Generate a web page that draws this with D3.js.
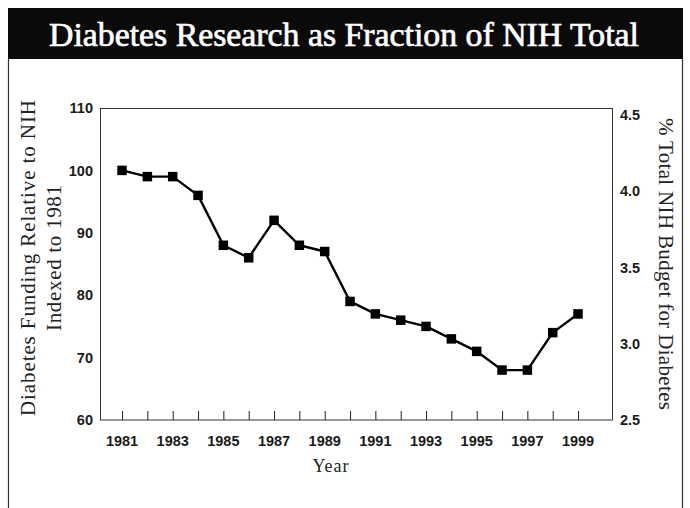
<!DOCTYPE html>
<html>
<head>
<meta charset="utf-8">
<script src="https://cdn.jsdelivr.net/npm/d3@7"></script>
<style>
  html, body { margin: 0; padding: 0; background: #fff; }
  svg { display: block; }
</style>
</head>
<body>
<svg id="chart" width="690" height="508"></svg>
<script>
// ---- data ----
const years = [1981,1982,1983,1984,1985,1986,1987,1988,1989,1990,1991,1992,1993,1994,1995,1996,1997,1998,1999];
const fundingIndex = [100,99,99,96,88,86,92,88,87,79,77,76,75,73,71,68,68,74,77];
const xTickLabels = [1981,1983,1985,1987,1989,1991,1993,1995,1997,1999];
const leftTicks = [60,70,80,90,100,110];
const rightTicks = [2.5,3.0,3.5,4.0,4.5];
const title = "Diabetes Research as Fraction of NIH Total";
const leftTitle = ["Diabetes Funding Relative to NIH", "Indexed to 1981"];
const rightTitle = "% Total NIH Budget for Diabetes";
const xTitle = "Year";

const svg = d3.select("#chart");
const serif = "Liberation Serif, DejaVu Serif, serif";
const sans = "Liberation Sans, Arial, sans-serif";

// title bar
svg.append("rect").attr("x", 8).attr("y", 8).attr("width", 675).attr("height", 51).attr("fill", "#0a0a0a");
svg.append("text").attr("x", 344).attr("y", 46).attr("text-anchor", "middle")
  .attr("fill", "#fff").attr("stroke", "#fff").attr("stroke-width", 0.7)
  .attr("font-family", serif).attr("font-size", 34)
  .attr("textLength", 590).attr("lengthAdjust", "spacingAndGlyphs")
  .text(title);

// outer frame sides
svg.append("line").attr("x1", 8.5).attr("x2", 8.5).attr("y1", 59).attr("y2", 508).attr("stroke", "#333").attr("stroke-width", 1.2);
svg.append("line").attr("x1", 682.5).attr("x2", 682.5).attr("y1", 59).attr("y2", 508).attr("stroke", "#333").attr("stroke-width", 1.2);

// scales
const x = d3.scaleLinear().domain([1980.13, 2000.38]).range([100, 613]);
const yL = d3.scaleLinear().domain([60, 110]).range([420, 108]);
const yR = d3.scaleLinear().domain([2.5, 4.5]).range([420, 115]);

// plot box
svg.append("rect").attr("x", 100.5).attr("y", 108.5).attr("width", 512).attr("height", 311.5)
  .attr("fill", "none").attr("stroke", "#333").attr("stroke-width", 1);

// x axis ticks (inward)
const xAxis = d3.axisBottom(x).tickValues(years).tickSize(-9).tickFormat("");
const gx = svg.append("g").attr("transform", "translate(0,420)").call(xAxis);
gx.select(".domain").remove();
gx.selectAll(".tick line").attr("stroke", "#222").attr("stroke-width", 1);

// x tick labels
svg.append("g").selectAll("text").data(xTickLabels).join("text")
  .attr("x", d => x(d)).attr("y", 446).attr("text-anchor", "middle")
  .attr("font-family", sans).attr("font-size", 14.5).attr("font-weight", "bold")
  .attr("fill", "#1a1a1a").text(d => d);

// left axis labels
const lAxis = d3.axisLeft(yL).tickValues(leftTicks).tickSize(0).tickPadding(7);
const gl = svg.append("g").attr("transform", "translate(100,0)").call(lAxis);
gl.select(".domain").remove();
gl.selectAll("text").attr("font-family", sans).attr("font-size", 14.5).attr("font-weight", "bold").attr("fill", "#1a1a1a");

// right axis labels
const rAxis = d3.axisRight(yR).tickValues(rightTicks).tickSize(0).tickPadding(7).tickFormat(d3.format(".1f"));
const gr = svg.append("g").attr("transform", "translate(613,0)").call(rAxis);
gr.select(".domain").remove();
gr.selectAll("text").attr("font-family", sans).attr("font-size", 14.5).attr("font-weight", "bold").attr("fill", "#1a1a1a");

// line
const line = d3.line().x((d, i) => x(years[i])).y(d => yL(d));
svg.append("path").datum(fundingIndex).attr("d", line)
  .attr("fill", "none").attr("stroke", "#000").attr("stroke-width", 2.4).attr("stroke-linejoin", "round");

// markers
const ms = 9.5;
svg.append("g").selectAll("rect").data(fundingIndex).join("rect")
  .attr("x", (d, i) => x(years[i]) - ms / 2).attr("y", d => yL(d) - ms / 2)
  .attr("width", ms).attr("height", ms).attr("fill", "#000");

// axis titles
const cy = 258;
svg.append("text").attr("transform", `translate(35,${cy}) rotate(-90)`).attr("text-anchor", "middle")
  .attr("font-family", serif).attr("font-size", 21).attr("fill", "#222")
  .attr("textLength", 316).attr("lengthAdjust", "spacing").text(leftTitle[0]);
svg.append("text").attr("transform", `translate(61,${cy}) rotate(-90)`).attr("text-anchor", "middle")
  .attr("font-family", serif).attr("font-size", 21).attr("fill", "#222")
  .attr("textLength", 146).attr("lengthAdjust", "spacing").text(leftTitle[1]);
svg.append("text").attr("transform", `translate(659,264) rotate(90)`).attr("text-anchor", "middle")
  .attr("font-family", serif).attr("font-size", 21).attr("fill", "#222")
  .attr("textLength", 292).attr("lengthAdjust", "spacing").text(rightTitle);
svg.append("text").attr("x", 331).attr("y", 472).attr("text-anchor", "middle")
  .attr("font-family", serif).attr("font-size", 18).attr("letter-spacing", 1).attr("fill", "#222").text(xTitle);
</script>
</body>
</html>
